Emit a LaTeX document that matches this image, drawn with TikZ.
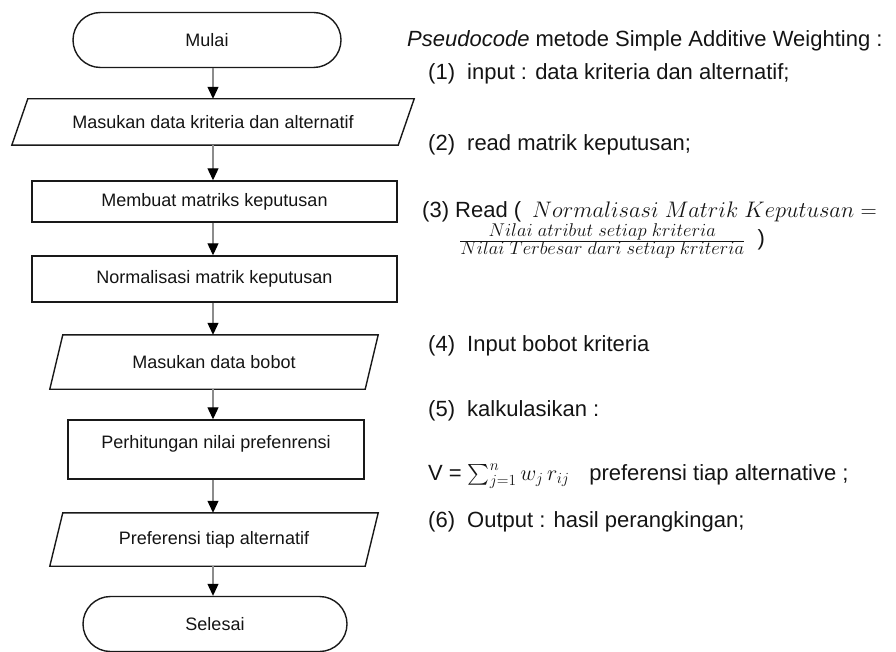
\RequirePackage{fix-cm}
\documentclass[tikz,border=0pt]{standalone}
\usepackage{amsmath}
\usepackage{fontspec}
\setmainfont{Liberation Sans}
\usetikzlibrary{shapes.misc,arrows.meta,calc}

\begin{document}
\begin{tikzpicture}[x=1pt,y=-1pt,
  every node/.style={text=black!92},
  flow/.style={font=\fontsize{18}{21}\selectfont, inner sep=0pt},
  outline/.style={draw=black!90, line width=1.4pt},
  terminal/.style={flow, outline, rounded rectangle, minimum width=268pt, minimum height=55pt},
  process/.style={flow, outline, rectangle},
  io/.style={flow, rectangle},
  link/.style={draw=black!45, line width=1.1pt, -{Triangle[width=11pt,length=12pt,color=black]}},
  code/.style={font=\fontsize{22}{26}\selectfont, anchor=base west, inner sep=0pt},
]
\useasboundingbox (0,0) rectangle (896,652);

% flowchart
\node[terminal] (start) at (207,40) {Mulai};
\node[io, minimum width=402pt, minimum height=46pt] (in1) at (213,122) {Masukan data kriteria dan alternatif};
\node[process, minimum width=365pt, minimum height=41pt] (mat) at (214.5,201.5) {Membuat matriks keputusan};
\node[process, minimum width=365pt, minimum height=46pt] (norm) at (214.5,279) {Normalisasi matrik keputusan};
\node[io, minimum width=328pt, minimum height=54pt] (in2) at (214,362) {Masukan data bobot};
\node[process, minimum width=296pt, text height=28.5pt, text depth=30.5pt] (calc) at (216,449.5) {Perhitungan nilai prefenrensi};
\node[io, minimum width=328pt, minimum height=53pt] (out) at (214,539.5) {Preferensi tiap alternatif};
\node[terminal, minimum width=264pt] (stop) at (215,624) {Selesai};

% input/output parallelograms
\foreach \n/\s in {in1/16, in2/13, out/13}{
  \draw[outline, line join=miter] ($(\n.north west)+(\s,0)$) -- (\n.north east)
    -- ($(\n.south east)-(\s,0)$) -- (\n.south west) -- cycle;
}

% connectors
\draw[link] (start.south -| in1.north) -- (in1.north);
\draw[link] (in1.south) -- (mat.north -| in1.south);
\draw[link] (mat.south -| in1.south) -- (norm.north -| in1.south);
\draw[link] (norm.south -| in1.south) -- (in2.north -| in1.south);
\draw[link] (in2.south -| in1.south) -- (calc.north -| in1.south);
\draw[link] (calc.south -| in1.south) -- (out.north -| in1.south);
\draw[link] (out.south -| in1.south) -- (stop.north -| in1.south);

% pseudocode
\node[code] (title) at (407,47) {\textit{Pseudocode} metode Simple Additive Weighting :};
\node[code] (s1) at (428,80) {(1)\hspace{0.55em}input : data kriteria dan alternatif;};
\node[code] (s2) at (428,151) {(2)\hspace{0.55em}read matrik keputusan;};
\node[code] (s3) at (422,218) {(3) Read (\hspace{0.5em}{\fontsize{22.5}{26}\selectfont$Normalisasi\ Matrik\ Keputusan =$}};
\node[code] (s3f) at (459,245.5) {{\fontsize{18.5}{22}\selectfont$\frac{\textstyle Nilai\ atribut\ setiap\ kriteria}{\textstyle Nilai\ Terbesar\ dari\ setiap\ kriteria}$}\hspace{0.55em})};
\node[code] (s4) at (428,351) {(4)\hspace{0.55em}Input bobot kriteria};
\node[code] (s5) at (428,416) {(5)\hspace{0.55em}kalkulasikan :};
\node[code] (s5v) at (428,480) {V = $\sum_{j=1}^{n} w_j\, r_{ij}$\hspace{0.9em}preferensi tiap alternative ;};
\node[code] (s6) at (428,527) {(6)\hspace{0.55em}Output : hasil perangkingan;};
\end{tikzpicture}
\end{document}
